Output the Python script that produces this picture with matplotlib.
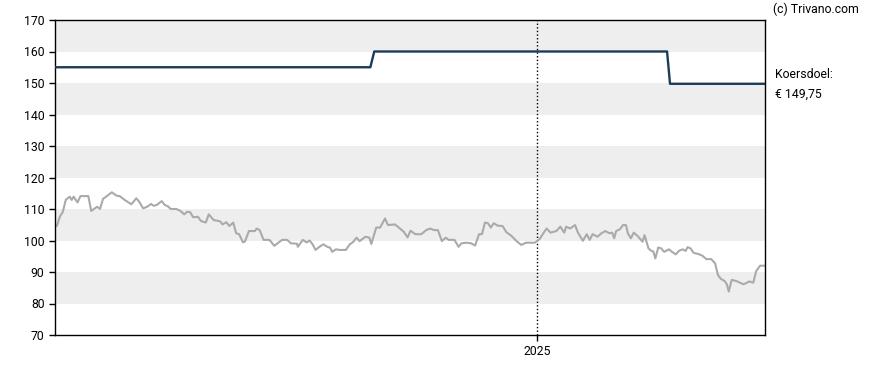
import numpy as np
import matplotlib.pyplot as plt
import matplotlib.dates as mdates

plt.rcParams['font.family'] = ['Roboto', 'DejaVu Sans']

start = np.datetime64('2023-08-28')

# koers (dagen vanaf start, waarde)
price_days = [0, 2, 5, 8, 11, 15, 17, 19, 23, 26, 34, 37, 43, 46, 49, 53, 58, 63, 66, 71,
              78, 83, 86, 90, 94, 98, 101, 104, 109, 112, 116, 118, 124, 128, 132, 135, 138, 141, 146, 149,
              154, 157, 162, 167, 169, 171, 175, 178, 182, 185, 188, 192, 194, 198, 204, 206, 209, 213, 219, 224,
              228, 232, 237, 241, 247, 248, 253, 257, 260, 263, 266, 270, 274, 278, 281, 283, 287, 291, 297, 301,
              304, 308, 311, 314, 317, 321, 323, 328, 332, 337, 340, 347, 350, 356, 360, 363, 368, 374, 379, 383,
              387, 391, 395, 399, 402, 408, 412, 415, 420, 425, 429, 433, 436, 439, 442, 445, 448, 452, 457, 461,
              466, 471, 476, 481, 490, 495, 498, 502, 506, 512, 516, 520, 522, 526, 531, 534, 539, 543, 546, 549,
              554, 558, 562, 566, 569, 571, 573, 577, 580, 583, 585, 588, 591, 595, 600, 602, 606, 609, 611, 613,
              616, 619, 622, 627, 630, 634, 637, 641, 644, 646, 649, 652, 657, 661, 665, 670, 674, 677, 680, 684,
              686, 688, 691, 696, 703, 706, 709, 713, 716, 720, 725]
price_vals = [104.5, 104.7, 107.6, 109.1, 112.9, 113.9, 112.9, 113.9, 112.1, 114.1, 114.1, 109.4, 110.7, 110.0, 113.2, 114.1, 115.3, 114.2, 114.1, 112.9,
              111.5, 113.4, 112.3, 110.2, 110.7, 111.6, 111.0, 111.3, 112.5, 111.3, 110.7, 110.0, 110.0, 109.4, 108.3, 109.1, 109.0, 107.4, 107.5, 106.2,
              105.7, 108.3, 106.5, 106.2, 106.0, 105.1, 105.8, 104.6, 105.7, 102.3, 102.0, 99.4, 99.7, 103.0, 103.0, 103.8, 103.3, 100.2, 100.2, 98.3,
              99.3, 100.2, 100.2, 99.1, 99.0, 98.0, 100.2, 99.4, 100.0, 98.8, 97.0, 98.0, 98.8, 98.0, 97.7, 96.4, 97.2, 97.0, 97.0, 98.8,
              99.4, 100.9, 99.8, 100.5, 101.2, 100.9, 98.9, 104.1, 104.1, 107.0, 104.9, 105.1, 104.4, 102.8, 101.0, 103.1, 102.0, 102.0, 103.3, 103.8,
              103.3, 103.3, 99.8, 100.9, 100.2, 100.2, 98.0, 99.1, 99.3, 99.1, 98.4, 102.0, 102.0, 105.7, 105.5, 104.1, 105.5, 104.7, 104.6, 102.6,
              101.5, 99.9, 98.6, 99.3, 99.3, 100.5, 102.0, 103.8, 102.5, 103.0, 104.4, 102.5, 104.4, 103.8, 104.9, 102.5, 99.9, 102.0, 100.2, 102.0,
              101.2, 102.3, 103.0, 102.3, 102.5, 100.7, 103.0, 103.6, 104.9, 104.9, 102.3, 100.7, 102.5, 101.4, 99.6, 101.7, 97.5, 96.7, 96.5, 94.3,
              97.8, 97.5, 96.4, 97.2, 96.4, 95.6, 96.7, 97.2, 96.7, 97.9, 97.5, 96.1, 95.7, 95.2, 94.1, 94.1, 92.8, 89.0, 87.8, 87.1,
              86.1, 83.8, 87.5, 87.1, 86.1, 86.5, 87.0, 86.6, 90.3, 92.0, 92.0]

# koersdoel
target_days = [0, 322, 326, 625, 628, 725]
target_vals = [155, 155, 160, 160, 149.75, 149.75]

y_ticks = [70, 80, 90, 100, 110, 120, 130, 140, 150, 160, 170]
year_tick = np.datetime64('2025-01-01')

price_x = (start + np.array(price_days).astype('timedelta64[D]')).astype('datetime64[ms]').astype(object)
target_x = (start + np.array(target_days).astype('timedelta64[D]')).astype('datetime64[ms]').astype(object)
year_x = year_tick.astype('datetime64[ms]').astype(object)

fig = plt.figure(figsize=(8.88, 3.70), dpi=100)
ax = fig.add_axes([55 / 888, 35 / 370, 710 / 888, 315 / 370])

# grijze banden
for lo in range(80, 170, 20):
    ax.axhspan(lo, lo + 10, color='#eeeeee', zorder=0, lw=0)

ax.axvline(year_x, color='black', lw=1, ls=(0, (1, 1.6)), zorder=1)
ax.plot(price_x, price_vals, color='#aaaaaa', lw=1.5, zorder=2)
ax.plot(target_x, target_vals, color='#1b3b57', lw=1.7, zorder=3)

ax.set_xlim(price_x[0], price_x[-1])
ax.set_ylim(70, 170)
ax.set_yticks(y_ticks)
ax.set_xticks([year_x])
ax.set_xticklabels(['2025'])
ax.tick_params(axis='both', labelsize=8.8, length=4, width=1, colors='black')
for s in ax.spines.values():
    s.set_linewidth(1)

fig.text(773 / 888, 1 - 9 / 370, '(c) Trivano.com', fontsize=8.8, va='center', ha='left')
fig.text(775 / 888, 1 - 75 / 370, 'Koersdoel:', fontsize=8.8, va='center', ha='left')
fig.text(775 / 888, 1 - 94 / 370, '€ 149,75', fontsize=8.8, va='center', ha='left')

fig.savefig('out.png', dpi=100)
